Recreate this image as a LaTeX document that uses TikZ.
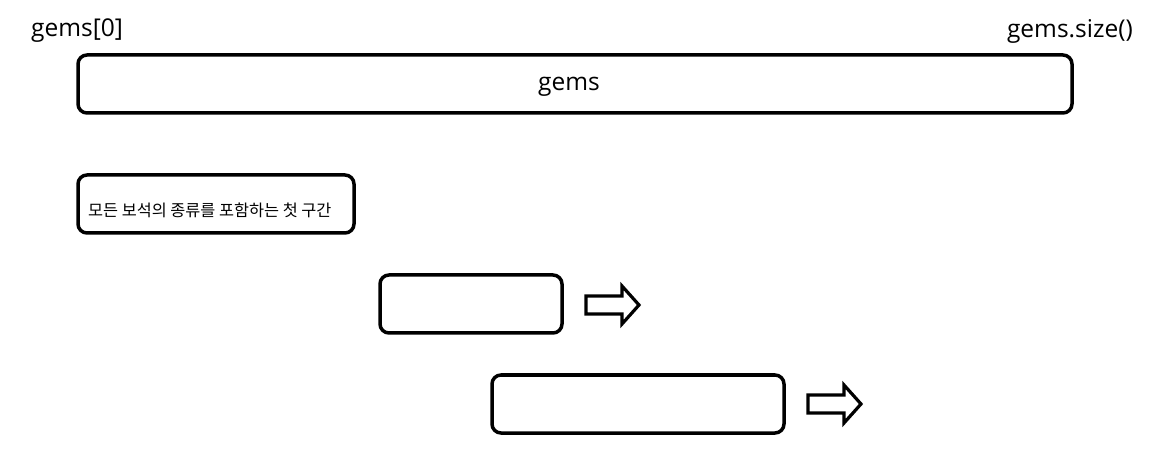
\documentclass[tikz,border=0pt]{standalone}
\usepackage{fontspec}
\setmainfont{Open Sans}
\newfontfamily\kr{Noto Sans CJK KR}
\begin{document}
\begin{tikzpicture}[x=1pt,y=-1pt,
  boxst/.style={draw=black,line width=3.5pt,rounded corners=9pt},
  lbl/.style={inner sep=0pt,font=\fontsize{24.5}{28}\selectfont},
  arr/.style={draw=black,line width=3.2pt,line join=miter}]
\useasboundingbox (0,0) rectangle (1157,454);
\node[lbl,anchor=west] (g0) at (31,31) {gems[0]};
\node[lbl,anchor=east] (gs) at (1133,31) {gems.size()};
\draw[boxst] (78,55) rectangle (1072,113);
\node[lbl] (gems) at (569,87) {gems};
\draw[boxst] (78,175) rectangle (354,233);
\node[anchor=west,inner sep=0pt,font=\kr\fontsize{16.3}{19}\selectfont] (first) at (88,210) {모든 보석의 종류를 포함하는 첫 구간};
\draw[boxst] (380,275) rectangle (562,333);
\draw[boxst] (492,375) rectangle (784,433);
\draw[arr] (586,296) -- (622,296) -- (622,286) -- (639,305) -- (622,324) -- (622,314) -- (586,314) -- cycle;
\draw[arr] (808,395) -- (844,395) -- (844,385) -- (861,404) -- (844,423) -- (844,413) -- (808,413) -- cycle;
\end{tikzpicture}
\end{document}
